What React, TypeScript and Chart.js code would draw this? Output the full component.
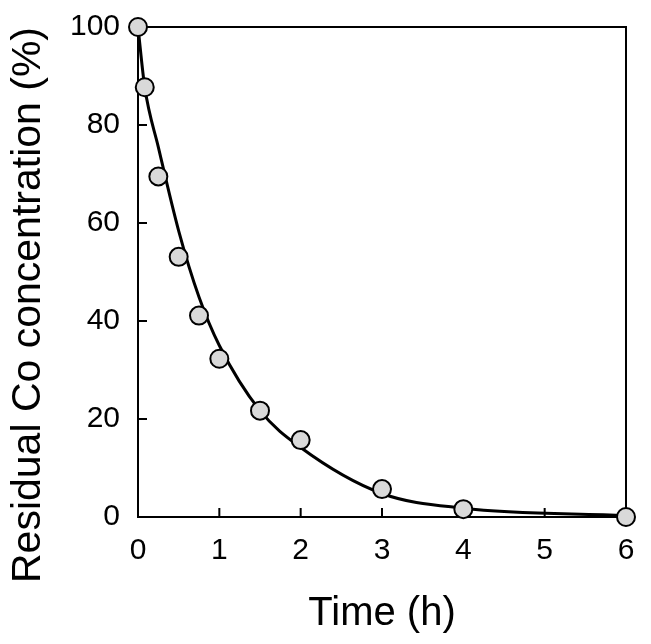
import React, { useEffect, useRef } from "react";
import { Chart, registerables } from "chart.js";

Chart.register(...registerables);

// ---- data ----
const timeHours = [0, 0.083, 0.25, 0.5, 0.75, 1, 1.5, 2, 3, 4, 6];
const residualCo = [100, 87.7, 69.5, 53.1, 41.1, 32.3, 21.7, 15.7, 5.7, 1.6, 0];
const fittedCo = [100, 87.7, 75.5, 58.4, 44.9, 35.0, 21.7, 14.2, 4.8, 1.8, 0.3];
const xTickValues = [0, 1, 2, 3, 4, 5, 6];
const yTickValues = [0, 20, 40, 60, 80, 100];
const xTitle = "Time (h)";
const yTitle = "Residual Co concentration (%)";

const FONT = "'Liberation Sans', Arial, sans-serif";

const framePlugin = {
  id: "frameAndTicks",
  beforeDatasetsDraw(chart: any) {
    const { ctx, chartArea, scales } = chart;
    const { left, top, right, bottom } = chartArea;
    const x = scales.x;
    const y = scales.y;
    ctx.save();
    ctx.strokeStyle = "#000";
    ctx.lineWidth = 2;
    ctx.strokeRect(left, top, right - left, bottom - top);
    ctx.beginPath();
    x.ticks.forEach((t: any) => {
      const px = x.getPixelForValue(t.value);
      ctx.moveTo(px, bottom);
      ctx.lineTo(px, bottom - 9);
    });
    y.ticks.forEach((t: any) => {
      const py = y.getPixelForValue(t.value);
      ctx.moveTo(left, py);
      ctx.lineTo(left + 9, py);
    });
    ctx.stroke();
    ctx.restore();
  },
  afterDraw(chart: any) {
    const { ctx, chartArea } = chart;
    ctx.save();
    ctx.fillStyle = "#000";
    ctx.font = `41px ${FONT}`;
    ctx.textAlign = "center";
    ctx.textBaseline = "middle";
    ctx.translate(29, (chartArea.top + chartArea.bottom) / 2 + 33);
    ctx.rotate(-Math.PI / 2);
    ctx.fillText(yTitle, 0, 0);
    ctx.restore();
  },
};

export default function App() {
  const canvasRef = useRef<HTMLCanvasElement | null>(null);

  useEffect(() => {
    document.body.style.margin = "0";
    const canvas = canvasRef.current;
    if (!canvas) return;
    const chart = new Chart(canvas, {
      type: "line",
      data: {
        datasets: [
          {
            label: "Measured",
            data: timeHours.map((t, i) => ({ x: t, y: residualCo[i] })),
            showLine: false,
            pointRadius: 9,
            pointHoverRadius: 9,
            pointBackgroundColor: "#d9d9d9",
            pointBorderColor: "#000",
            pointBorderWidth: 2,
            clip: false,
          } as any,
          {
            label: "Fit",
            data: timeHours.map((t, i) => ({ x: t, y: fittedCo[i] })),
            borderColor: "#000",
            borderWidth: 3,
            pointRadius: 0,
            cubicInterpolationMode: "monotone",
            fill: false,
            clip: false,
          } as any,
        ],
      },
      options: {
        responsive: false,
        animation: false,
        layout: { padding: { top: 27, right: 25, left: 0, bottom: 0 } },
        plugins: {
          legend: { display: false },
          tooltip: { enabled: false },
        },
        scales: {
          x: {
            type: "linear",
            min: 0,
            max: 6,
            afterBuildTicks: (scale: any) => {
              scale.ticks = xTickValues.map((v) => ({ value: v }));
            },
            afterFit: (scale: any) => {
              scale.height = 127;
              scale.paddingLeft = 0;
              scale.paddingRight = 0;
            },
            grid: { display: false, drawTicks: false },
            border: { display: false },
            ticks: {
              color: "#000",
              padding: 16,
              font: { family: FONT, size: 30 },
            },
            title: {
              display: true,
              text: xTitle,
              color: "#000",
              font: { family: FONT, size: 40 },
              padding: { top: 0, bottom: 6 },
            },
          },
          y: {
            type: "linear",
            min: 0,
            max: 100,
            afterBuildTicks: (scale: any) => {
              scale.ticks = yTickValues.map((v) => ({ value: v }));
            },
            afterFit: (scale: any) => {
              scale.width = 138;
              scale.paddingTop = 0;
              scale.paddingBottom = 0;
            },
            grid: { display: false, drawTicks: false },
            border: { display: false },
            ticks: {
              color: "#000",
              padding: 18,
              font: { family: FONT, size: 30 },
            },
          },
        },
      } as any,
      plugins: [framePlugin],
    });
    return () => chart.destroy();
  }, []);

  return (
    <div style={{ position: "fixed", left: 0, top: 0, width: 651, height: 644, background: "#fff" }}>
      <canvas ref={canvasRef} width={651} height={644} style={{ display: "block" }} />
    </div>
  );
}
